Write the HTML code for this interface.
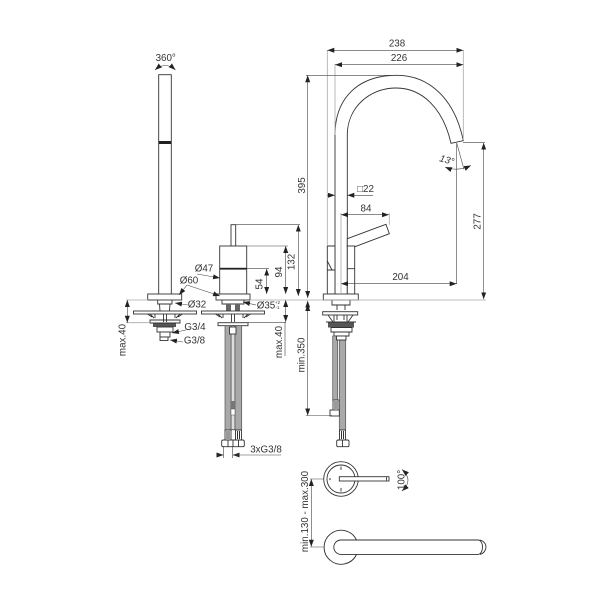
<!DOCTYPE html>
<html><head><meta charset="utf-8"><style>
html,body{margin:0;padding:0;background:#fff}
svg{display:block}
text{font-family:"Liberation Sans",sans-serif;font-size:9.8px;fill:#333;text-anchor:middle}
.o{fill:#fff;stroke:#333;stroke-width:.9}
.n{fill:none;stroke:#333;stroke-width:.9}
.d{fill:none;stroke:#444;stroke-width:.6}
.g{fill:none;stroke:#aaa;stroke-width:.8}
.h{fill:#a9a9a9;stroke:#555;stroke-width:.7}
</style></head><body>
<svg width="603" height="603" viewBox="0 0 603 603" xmlns="http://www.w3.org/2000/svg">
<defs>
<marker id="a" markerUnits="userSpaceOnUse" markerWidth="8" markerHeight="6" refX="7" refY="2.500" orient="auto-start-reverse"><path d="M0 0L7 2.500L0 5z" fill="#222"/></marker>
<g id="flange">
<path class="n" d="M-22 311L-13 317M22 311L13 317M-18 311L-11 318M18 311L11 318M-10 311V318M10 311V318M-1.500 314V322M1.500 314V322"/>
<rect class="o" x="-31.500" y="311" width="63" height="3"/>
</g>
</defs>

<!-- Hand shower -->
<rect class="o" x="158.700" y="74.700" width="12.600" height="220"/>
<rect x="158.700" y="141" width="12.600" height="3" fill="#222"/>
<rect class="o" x="147.700" y="294" width="34" height="6"/>
<path class="n" d="M157.700 300V304H172V300M159.500 304L160 311M170 304L169.500 311"/>
<use href="#flange" transform="translate(165 0)"/>
<rect x="153" y="323" width="23" height="4" fill="#555"/>
<rect class="o" x="157" y="327" width="16" height="5"/>
<rect class="o" x="160" y="332" width="10" height="5"/>
<rect class="o" x="160" y="337" width="8" height="3.500"/>
<path class="n" d="M150 320H180V323H150z"/>
<text x="165.700" y="61">360°</text>
<path class="d" d="M155 70Q165.500 61 175.500 70" marker-start="url(#a)" marker-end="url(#a)"/>

<!-- Mixer -->
<rect class="o" x="231" y="224.700" width="4.700" height="21.300"/>
<rect class="o" x="219.700" y="246" width="27" height="48"/>
<rect x="219.700" y="267.800" width="27" height="1.800" fill="#222"/>
<rect class="o" x="216" y="294" width="34" height="6"/>
<path class="n" d="M222 300V304H244V300"/>
<rect x="226" y="304" width="5" height="7" fill="#666"/>
<rect x="235" y="304" width="5" height="7" fill="#666"/>
<use href="#flange" transform="translate(233 0)"/>
<rect class="o" x="218" y="322.700" width="30" height="3"/>
<rect x="231" y="325.700" width="4" height="104" fill="#ddd" stroke="#444" stroke-width=".8"/>
<rect class="h" x="225" y="325.700" width="6" height="104.300"/>
<rect class="h" x="235" y="325.700" width="6.700" height="104.300"/>
<rect class="o" x="229.500" y="327" width="6.500" height="7"/>
<rect x="231" y="401" width="4" height="8" fill="#777"/>
<rect x="231" y="409" width="4" height="6" fill="#fff" stroke="#555" stroke-width=".5"/>
<rect class="o" x="225" y="430" width="6" height="10"/>
<rect class="o" x="235.500" y="430" width="6" height="10"/>
<path d="M227 431V439M229 431V439M237.500 431V439M239.500 431V439" stroke="#333" stroke-width="1"/>
<rect class="o" x="221.700" y="440" width="22.600" height="6.700" rx="1.500"/>
<path class="n" d="M228 440V446.700M233 440V446.700M238.500 440V446.700"/>

<!-- Spout -->
<path class="n" d="M335 296V135C335 98 358 75.300 397 75.300C430 75.300 455 100 463.300 140.700L451 143.300C443 108 422 88 396 88C369 88 347.300 108 347.300 135V296" fill="#fff"/>
<path class="o" d="M347.300 238.700L386 224.300L389.300 233.700L355 246.700H347.300z"/>
<rect class="o" x="347.300" y="246" width="7.400" height="48"/>
<path class="o" d="M327.300 246H335V294H327.300z"/>
<path class="n" d="M327.300 261L332 270H335M327.300 270H332M347.300 268.700H354.700"/>
<rect class="o" x="323.300" y="294" width="35" height="6"/>
<path class="n" d="M332 300V305H350V300"/>
<path class="n" d="M337 310V305H345V310"/>
<path class="n" d="M328 315L333 322M353 315L348 322M334 315V322M347 315V322M337 315V320M344 315V320"/>
<rect class="o" x="322.700" y="311.700" width="35" height="3.300"/>
<rect x="328" y="322" width="26" height="5.500" fill="#555"/>
<path class="n" d="M326 322H356M331 327.500H352V332H331zM334 332V336H349V332"/>
<rect class="h" x="332.700" y="336" width="5" height="64"/>
<rect class="h" x="339.300" y="340" width="6.400" height="90"/>
<rect class="o" x="336.500" y="336" width="9.500" height="4"/>
<rect class="o" x="333" y="400" width="6" height="10"/>
<path d="M335 401V409M337 401V409" stroke="#333"/>
<rect class="o" x="330" y="410" width="9.300" height="6"/>
<rect class="o" x="339.500" y="430" width="6" height="10"/>
<path d="M341.500 431V439M343.500 431V439" stroke="#333"/>
<rect class="o" x="336.700" y="440" width="12.300" height="6.700" rx="1.500"/>
<path class="n" d="M342.500 440V446.700"/>

<!-- Handles, top -->
<circle class="n" cx="341" cy="479" r="17.300"/>
<circle class="n" cx="341" cy="479" r="14"/>
<path class="n" d="M341 466.500V470M341 488V491.500M329 479H331" stroke-width="1.100"/>
<rect class="o" x="339.300" y="476.700" width="49.700" height="4.300"/>
<path d="M386.500 476.700V481" stroke="#555"/>
<path class="d" d="M402 469.500Q414 480 402 491" marker-start="url(#a)" marker-end="url(#a)"/>
<text transform="translate(404.500 480) rotate(-90)">100°</text>

<!-- Handle, bottom -->
<path class="n" d="M356.500 540A17 17 0 1 0 356.500 554.500"/>
<path class="n" d="M478 540H341A7.200 7.200 0 0 0 341 554.400H478C484 554 484 540 478 540"/>
<path class="n" d="M480 540C488 542 488 552 480 554.400"/>

<!-- Dimensions: right -->
<g class="g">
<path d="M327.300 50V246M335 64V135M463.300 50V140M341 213V294M305 300H486M389.300 213V225"/>
</g>
<g class="d">
<path d="M327.300 50.300H463.300" marker-start="url(#a)" marker-end="url(#a)"/>
<path d="M335 64.700H463.300" marker-start="url(#a)" marker-end="url(#a)"/>
<path d="M306 75.300H396"/>
<path d="M307.700 75.300V298" marker-start="url(#a)" marker-end="url(#a)"/>
<path d="M463 142.700H485"/>
<path d="M483.700 142.700V299.300" marker-start="url(#a)" marker-end="url(#a)"/>
<path d="M456.700 143V284"/>
<path d="M341 283.700H456.700" marker-start="url(#a)" marker-end="url(#a)"/>
<path d="M341 214.700H389" marker-start="url(#a)" marker-end="url(#a)"/>
<path d="M327.300 195.300H335" marker-end="url(#a)"/>
<path d="M373 195.300H347.300" marker-end="url(#a)"/>
<path d="M307.700 300.700V306" marker-start="url(#a)"/>
<path d="M307.700 304V415.500" marker-start="url(#a)" marker-end="url(#a)"/>
<path d="M306 415.500H332"/>
<path d="M456.700 143L464 169.300"/>
<path d="M445 167Q457 172 471 165.500" marker-start="url(#a)" marker-end="url(#a)"/>
</g>
<text x="397" y="46.500">238</text>
<text x="399" y="61">226</text>
<text transform="translate(305 185.500) rotate(-90)">395</text>
<text transform="translate(480.500 221.500) rotate(-90)">277</text>
<text x="365.500" y="192">□22</text>
<text x="366" y="211.500">84</text>
<text x="400.500" y="280">204</text>
<text transform="translate(304.300 355) rotate(-90)">min.350</text>
<text transform="translate(446 163) rotate(16)" font-style="italic">13°</text>

<!-- Dimensions: middle -->
<g class="g"><path d="M250 300H305M126 300H148M126 322.700H150"/></g>
<g class="d">
<path d="M127.300 300V322.700" marker-start="url(#a)" marker-end="url(#a)"/>
<path d="M236 224.700H300M247 246H288M247 268.700H269"/>
<path d="M266.700 268.700V294" marker-start="url(#a)" marker-end="url(#a)"/>
<path d="M285.700 246V294" marker-start="url(#a)" marker-end="url(#a)"/>
<path d="M298.300 224.700V296" marker-start="url(#a)" marker-end="url(#a)"/>
<path d="M285.700 300V322" marker-start="url(#a)" marker-end="url(#a)"/>
<path d="M248 322.300H286M285 322V356"/>
<path d="M197 274L220 278" marker-end="url(#a)"/>
<path d="M187 285L179 295" marker-end="url(#a)"/>
<path d="M187 285L220 296" marker-end="url(#a)"/>
<path d="M188 305L175 303" marker-end="url(#a)"/>
<path d="M256 305L243 302" marker-end="url(#a)"/>
<path d="M186 330L172 333" marker-end="url(#a)"/>
<path d="M183 342L170 340" marker-end="url(#a)"/>
<path d="M216.700 455H223.500" marker-end="url(#a)"/>
<path d="M239.500 455H232.700" marker-end="url(#a)"/>
<path d="M232.700 455H281"/>
<path d="M223.500 446V458M232.700 446V458"/>
</g>
<text x="204" y="271.500">Ø47</text>
<text x="189" y="283.500">Ø60</text>
<text x="197" y="307.500">Ø32</text>
<text x="266" y="308.500">Ø35</text>
<text x="277.500" y="304" style="font-size:4.500px">+2</text>
<text x="277.500" y="309" style="font-size:4.500px">-1</text>
<text x="195" y="330">G3/4</text>
<text x="194.500" y="343.500">G3/8</text>
<text transform="translate(125.500 340) rotate(-90)">max.40</text>
<text transform="translate(282 342) rotate(-90)">max.40</text>
<text transform="translate(262.500 284) rotate(-90)">54</text>
<text transform="translate(282 272) rotate(-90)">94</text>
<text transform="translate(294.500 262) rotate(-90)">132</text>
<text x="266" y="452.500">3xG3/8</text>

<!-- Dimension: bottom -->
<g class="d">
<path d="M310 479H324M310 547H324"/>
<path d="M311.300 479V546.700" marker-start="url(#a)" marker-end="url(#a)"/>
</g>
<text transform="translate(308 511.500) rotate(-90)">min.130 - max.300</text>
</svg>
</body></html>
